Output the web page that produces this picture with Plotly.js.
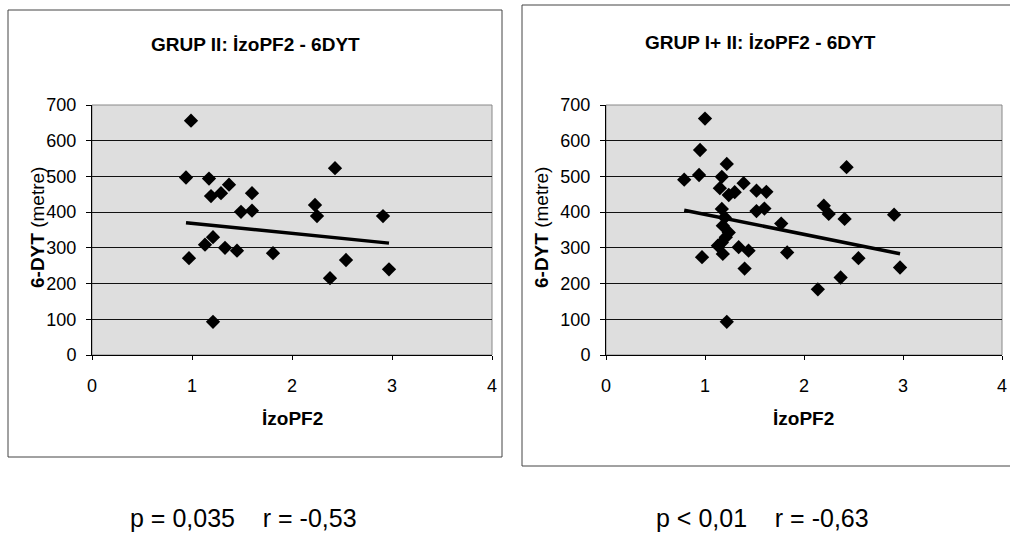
<!DOCTYPE html>
<html>
<head>
<meta charset="utf-8">
<script src="https://cdn.plot.ly/plotly-3.0.1.min.js"></script>
<style>html,body{margin:0;padding:0;background:#fff;}#chart{width:1010px;height:550px;}</style>
</head>
<body>
<div id="chart"></div>
<script>
// ---- data ----
const chartTitles = ["GRUP II: İzoPF2 - 6DYT", "GRUP I+ II: İzoPF2 - 6DYT"];
const statTexts = ["p = 0,035    r = -0,53", "p < 0,01    r = -0,63"];
const xTickVals = [0, 1, 2, 3, 4];
const yTickVals = [0, 100, 200, 300, 400, 500, 600, 700];

// GRUP II
const grup2X = [0.99, 0.94, 1.17, 1.37, 1.29, 1.19, 1.60, 1.49, 1.60, 2.23, 2.25, 1.21, 1.13, 1.33, 1.45, 1.81, 0.97, 1.21, 2.43, 2.91, 2.54, 2.97, 2.38];
const grup2Y = [656, 497, 494, 477, 453, 445, 453, 401, 404, 420, 389, 330, 309, 300, 292, 285, 271, 93, 523, 389, 266, 240, 215];
// GRUP I + II
const grup12X = [1.00, 0.95, 0.79, 0.94, 1.22, 1.17, 1.39, 1.15, 1.24, 1.30, 1.52, 1.62, 1.52, 1.60, 1.17, 1.77, 2.20, 2.25, 1.18, 1.24, 1.17, 1.13, 1.18, 1.34, 1.44, 1.83, 0.97, 1.40, 2.14, 1.22, 2.43, 2.41, 2.91, 2.55, 2.97, 2.37, 1.21, 1.20];
const grup12Y = [662, 574, 491, 504, 535, 499, 481, 467, 448, 456, 460, 457, 403, 410, 409, 368, 418, 395, 362, 343, 315, 306, 283, 302, 292, 287, 274, 242, 184, 93, 526, 381, 393, 271, 245, 217, 330, 385];
// linear trendlines (slope, intercept)
const trendSlope = [-28.2, -55.9];
const trendIntercept = [397, 449.6];

function trend(xs, i) {
  const lo = Math.min(...xs), hi = Math.max(...xs);
  return {x: [lo, hi], y: [trendIntercept[i] + trendSlope[i] * lo, trendIntercept[i] + trendSlope[i] * hi]};
}
const t1 = trend(grup2X, 0), t2 = trend(grup12X, 1);

const FONT = 'Arial, "Liberation Sans", sans-serif';
const marker = {symbol: 'diamond', size: 11, color: '#000'};

const traces = [
  {type: 'scatter', mode: 'markers', x: grup2X, y: grup2Y, marker: marker, xaxis: 'x', yaxis: 'y'},
  {type: 'scatter', mode: 'lines', x: t1.x, y: t1.y, line: {color: '#000', width: 3.5}, xaxis: 'x', yaxis: 'y'},
  {type: 'scatter', mode: 'markers', x: grup12X, y: grup12Y, marker: marker, xaxis: 'x2', yaxis: 'y2'},
  {type: 'scatter', mode: 'lines', x: t2.x, y: t2.y, line: {color: '#000', width: 3.5}, xaxis: 'x2', yaxis: 'y2'}
];

const yDom = [(550 - 355) / 550, (550 - 105) / 550];
function xAx(dom, anchor) {
  return {
    domain: dom, anchor: anchor, range: [0, 4], tickvals: xTickVals, ticktext: xTickVals.map(String),
    showgrid: false, zeroline: false, showline: true, linecolor: '#000', linewidth: 1,
    ticks: 'outside', ticklen: 4, tickcolor: '#000', ticklabelstandoff: 10,
    tickfont: {family: FONT, size: 18, color: '#000'}, fixedrange: true
  };
}
function yAx(anchor) {
  return {
    domain: yDom, anchor: anchor, range: [0, 700], tickvals: yTickVals, ticktext: yTickVals.map(String),
    showgrid: true, gridcolor: '#111', gridwidth: 1, zeroline: false,
    showline: true, linecolor: '#000', linewidth: 1,
    ticks: 'outside', ticklen: 5, tickcolor: '#000', ticklabelstandoff: 6,
    tickfont: {family: FONT, size: 18, color: '#000'}, fixedrange: true
  };
}

const layout = {
  width: 1010, height: 550,
  margin: {l: 0, r: 0, t: 0, b: 0},
  paper_bgcolor: '#fff', plot_bgcolor: '#dedede',
  showlegend: false,
  font: {family: FONT, color: '#000'},
  xaxis: xAx([92 / 1010, 492 / 1010], 'y'),
  yaxis: yAx('x'),
  xaxis2: xAx([606 / 1010, 1002 / 1010], 'y2'),
  yaxis2: yAx('x2'),
  shapes: [
    // chart area frames
    {type: 'rect', xref: 'paper', yref: 'paper', x0: 8 / 1010, x1: 502 / 1010, y0: 1 - 457 / 550, y1: 1 - 10 / 550, line: {color: '#444', width: 1}},
    {type: 'rect', xref: 'paper', yref: 'paper', x0: 522 / 1010, x1: 1012 / 1010, y0: 1 - 466 / 550, y1: 1 - 5 / 550, line: {color: '#444', width: 1}},
    // plot area borders (grey)
    {type: 'rect', xref: 'x domain', yref: 'y domain', x0: 0, x1: 1, y0: 0, y1: 1, line: {color: '#888', width: 1}, layer: 'below'},
    {type: 'rect', xref: 'x2 domain', yref: 'y2 domain', x0: 0, x1: 1, y0: 0, y1: 1, line: {color: '#888', width: 1}, layer: 'below'}
  ],
  annotations: [
    {text: '<b>' + chartTitles[0] + '</b>', xref: 'paper', yref: 'paper', x: 255 / 1010, y: 1 - 45 / 550, showarrow: false, xanchor: 'center', yanchor: 'middle', font: {family: FONT, size: 19, color: '#000'}},
    {text: '<b>' + chartTitles[1] + '</b>', xref: 'paper', yref: 'paper', x: 760 / 1010, y: 1 - 42 / 550, showarrow: false, xanchor: 'center', yanchor: 'middle', font: {family: FONT, size: 19, color: '#000'}},
    {text: '<b>6-DYT</b> (metre)', xref: 'paper', yref: 'paper', x: 37 / 1010, y: 1 - 228 / 550, textangle: -90, showarrow: false, xanchor: 'center', yanchor: 'middle', font: {family: FONT, size: 19, color: '#000'}},
    {text: '<b>6-DYT</b> (metre)', xref: 'paper', yref: 'paper', x: 541 / 1010, y: 1 - 228 / 550, textangle: -90, showarrow: false, xanchor: 'center', yanchor: 'middle', font: {family: FONT, size: 19, color: '#000'}},
    {text: '<b>İzoPF2</b>', xref: 'paper', yref: 'paper', x: 292 / 1010, y: 1 - 418 / 550, showarrow: false, xanchor: 'center', yanchor: 'middle', font: {family: FONT, size: 19, color: '#000'}},
    {text: '<b>İzoPF2</b>', xref: 'paper', yref: 'paper', x: 803 / 1010, y: 1 - 418 / 550, showarrow: false, xanchor: 'center', yanchor: 'middle', font: {family: FONT, size: 19, color: '#000'}},
    {text: statTexts[0].replace(/ {2,}/g, m => '&nbsp;'.repeat(m.length)), xref: 'paper', yref: 'paper', x: 243 / 1010, y: 1 - 518 / 550, showarrow: false, xanchor: 'center', yanchor: 'middle', font: {family: FONT, size: 25, color: '#000'}},
    {text: statTexts[1].replace(/ {2,}/g, m => '&nbsp;'.repeat(m.length)), xref: 'paper', yref: 'paper', x: 762 / 1010, y: 1 - 518 / 550, showarrow: false, xanchor: 'center', yanchor: 'middle', font: {family: FONT, size: 25, color: '#000'}}
  ]
};

Plotly.newPlot('chart', traces, layout, {displayModeBar: false, staticPlot: true});
</script>
</body>
</html>
